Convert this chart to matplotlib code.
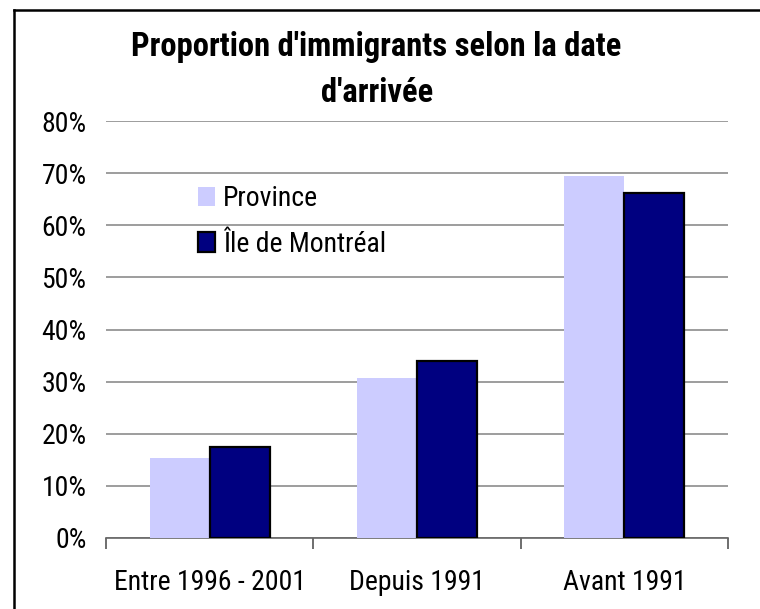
import matplotlib
matplotlib.use("Agg")
import matplotlib.pyplot as plt
from matplotlib.patches import Patch
from matplotlib.lines import Line2D
from matplotlib import font_manager

categories = ["Entre 1996 - 2001", "Depuis 1991", "Avant 1991"]
province = [15.3, 30.7, 69.5]
montreal = [17.5, 33.9, 66.2]
yticks = [0, 10, 20, 30, 40, 50, 60, 70, 80]
ytick_labels = ["0%", "10%", "20%", "30%", "40%", "50%", "60%", "70%", "80%"]
series_names = ["Province", "Île de Montréal"]
title_lines = ["Proportion d'immigrants selon la date", "d'arrivée"]

# pick a narrow sans family (Arial Narrow look-alike)
fonts = font_manager.fontManager.ttflist
def has(name, bold=False):
    for f in fonts:
        if f.name == name and f.style == "normal":
            w = f.weight if isinstance(f.weight, int) else (700 if f.weight == "bold" else 400)
            if (w >= 700) == bold:
                return True
    return False

prefs = ["Liberation Sans Narrow", "Arial Narrow", "Nimbus Sans Narrow",
         "Roboto Condensed", "Archivo Narrow", "PT Sans Narrow", "Asap Condensed",
         "Barlow Semi Condensed", "Liberation Sans"]
REG = next((p for p in prefs if has(p)), "DejaVu Sans")
BOLD = next((p for p in prefs if has(p, True)), "DejaVu Sans")
plt.rcParams["font.family"] = [REG, "DejaVu Sans"]

W, H = 760, 609
fig = plt.figure(figsize=(W / 100, H / 100), dpi=100)
ax = fig.add_axes([106 / W, 1 - 538 / H, 622 / W, 417 / H])

x = list(range(len(categories)))
bw = 0.29
ax.bar([i - bw for i in x], province, width=bw, align="edge",
       color="#CCCCFF", edgecolor="none", zorder=3)
ax.bar(x, montreal, width=bw, align="edge",
       color="#000080", edgecolor="black", linewidth=1.6, zorder=3)

ax.set_xlim(-0.5, len(categories) - 0.5)
ax.set_ylim(0, 80)
ax.set_yticks(yticks)
ax.set_yticklabels(ytick_labels, fontsize=20)
ax.tick_params(axis="y", length=0, pad=14)
ax.yaxis.grid(True, color="#8c8c8c", linewidth=1.2, zorder=0)
ax.set_axisbelow(True)

ax.set_xticks([i - 0.5 for i in range(len(categories) + 1)])
ax.set_xticklabels([])
ax.set_xticks(x, minor=True)
ax.set_xticklabels(categories, minor=True, fontsize=20)
ax.tick_params(axis="x", which="major", length=8, width=1.2, color="#555555", direction="out")
ax.tick_params(axis="x", which="minor", length=0, pad=22)

for s in ["left", "right", "top"]:
    ax.spines[s].set_visible(False)
ax.spines["bottom"].set_color("#666666")
ax.spines["bottom"].set_linewidth(1.2)

fig.text(376 / W, 1 - 47 / H, title_lines[0], ha="center", va="center",
         fontsize=23.5, fontweight="bold", family=[BOLD, "DejaVu Sans"])
fig.text(377 / W, 1 - 93 / H, title_lines[1], ha="center", va="center",
         fontsize=23.5, fontweight="bold", family=[BOLD, "DejaVu Sans"])

handles = [Patch(facecolor="#CCCCFF", edgecolor="none"),
           Patch(facecolor="#000080", edgecolor="black", linewidth=1.6)]
fig.legend(handles, series_names, loc="upper left",
           bbox_to_anchor=(198 / W, 1 - 185 / H), frameon=False, fontsize=20,
           handlelength=0.6, handleheight=0.7, handletextpad=0.3,
           labelspacing=0.68, borderpad=0, borderaxespad=0)

# figure frame (top and left only, as in the cropped original)
fig.add_artist(Line2D([14 / W, 1], [1 - 10 / H, 1 - 10 / H], color="black",
                      linewidth=1.8, transform=fig.transFigure))
fig.add_artist(Line2D([14 / W, 14 / W], [1 - 10 / H, 0], color="black",
                      linewidth=1.8, transform=fig.transFigure))

fig.savefig("out.png", dpi=100)
